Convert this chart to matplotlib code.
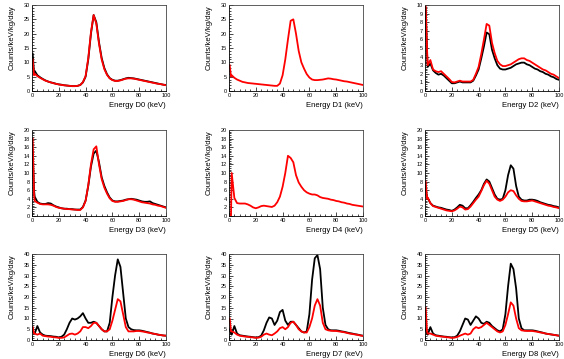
import matplotlib
matplotlib.use("Agg")
import matplotlib.pyplot as plt
from matplotlib.ticker import MultipleLocator

plt.rcParams["font.family"] = ["Liberation Sans", "DejaVu Sans"]

# energy grid (keV) shared by all spectra
energy = [0.5, 1.5, 2, 4, 6, 8, 10, 12, 14, 16, 18,
          20, 22, 24, 26, 28, 30, 32, 34, 36, 38,
          40, 42, 44, 46, 48, 50, 52, 54, 56, 58,
          60, 62, 64, 66, 68, 70, 72, 74, 76, 78,
          80, 82, 84, 86, 88, 90, 92, 94, 96, 98, 100]

detectors = ["D0", "D1", "D2", "D3", "D4", "D5", "D6", "D7", "D8"]
y_max = [30, 30, 10, 20, 20, 20, 40, 40, 40]
y_step = [5, 5, 1, 2, 2, 2, 5, 5, 5]

d0_black = [13, 6.5, 7, 5.5, 4.8, 4.2, 3.7, 3.3, 3.0, 2.8, 2.5,
            2.3, 2.2, 2.0, 1.9, 1.8, 1.7, 1.7, 1.8, 2.1, 3.0,
            5.0, 11, 20, 26.5, 24, 17, 11.5, 8, 5.8, 4.5,
            3.9, 3.6, 3.6, 3.8, 4.1, 4.4, 4.6, 4.5, 4.4, 4.2,
            4.0, 3.8, 3.6, 3.4, 3.2, 3.0, 2.8, 2.6, 2.4, 2.2, 2.1]
d0_red = [11, 5.5, 6, 5.2, 4.6, 4.1, 3.6, 3.3, 3.0, 2.7, 2.5,
          2.3, 2.1, 2.0, 1.9, 1.8, 1.7, 1.7, 1.8, 2.1, 3.1,
          5.2, 11.5, 20.5, 26.5, 23.5, 16.5, 11, 7.6, 5.6, 4.4,
          3.8, 3.5, 3.5, 3.7, 4.0, 4.3, 4.4, 4.4, 4.3, 4.1,
          3.9, 3.7, 3.5, 3.3, 3.1, 2.9, 2.7, 2.5, 2.4, 2.2, 2.0]

d1_red = [9, 5, 5.5, 4.6, 4.0, 3.6, 3.2, 3.0, 2.8, 2.7, 2.6,
          2.5, 2.4, 2.3, 2.2, 2.1, 2.0, 1.9, 1.8, 1.8, 2.6,
          5.5, 11, 18, 24.5, 25, 20, 14, 10, 7.8, 5.9,
          4.7, 4.0, 3.8, 3.8, 3.9, 4.0, 4.2, 4.4, 4.3, 4.1,
          4.0, 3.8, 3.6, 3.4, 3.3, 3.1, 2.9, 2.7, 2.5, 2.3, 2.1]

d2_black = [9.5, 4.5, 2.8, 3.2, 2.4, 2.1, 1.9, 2.0, 1.8, 1.5, 1.2,
            0.9, 0.9, 1.0, 1.1, 1.0, 1.0, 1.0, 1.0, 1.2, 1.8,
            2.5, 3.8, 5.2, 6.8, 6.6, 4.8, 3.8, 3.0, 2.6, 2.5,
            2.5, 2.6, 2.7, 2.9, 3.1, 3.2, 3.3, 3.3, 3.1, 3.0,
            2.8, 2.6, 2.5, 2.3, 2.2, 2.0, 1.9, 1.7, 1.6, 1.4, 1.3]
d2_red = [10, 5, 3.0, 3.6, 2.5, 2.3, 2.2, 2.3, 2.0, 1.7, 1.4,
          1.05, 1.0, 1.1, 1.2, 1.1, 1.1, 1.1, 1.1, 1.3, 2.0,
          2.8, 4.3, 6.0, 7.8, 7.6, 5.6, 4.4, 3.5, 3.1, 2.9,
          2.9, 3.0, 3.1, 3.3, 3.5, 3.7, 3.8, 3.8, 3.6, 3.5,
          3.3, 3.1, 2.9, 2.7, 2.5, 2.4, 2.2, 2.0, 1.9, 1.7, 1.5]

d3_black = [15, 6, 4.5, 3.3, 2.9, 2.8, 2.8, 3.0, 2.9, 2.5, 2.2,
            2.0, 1.8, 1.7, 1.7, 1.6, 1.6, 1.5, 1.5, 1.5, 2.1,
            3.6, 7, 11.5, 14.5, 15.2, 12.5, 9, 7, 5.5, 4.3,
            3.6, 3.4, 3.4, 3.5, 3.6, 3.8, 3.9, 4.0, 3.9, 3.8,
            3.6, 3.4, 3.3, 3.3, 3.4, 3.0, 2.8, 2.6, 2.4, 2.2, 2.0]
d3_red = [18, 5, 3.5, 3.1, 2.8, 2.7, 2.7, 2.7, 2.6, 2.4, 2.1,
          1.9, 1.8, 1.7, 1.6, 1.6, 1.5, 1.5, 1.4, 1.4, 2.0,
          3.5, 7.2, 12, 15.5, 16.2, 12, 8.6, 6.6, 5.2, 4.1,
          3.5, 3.3, 3.3, 3.4, 3.5, 3.7, 3.9, 3.9, 3.8, 3.6,
          3.4, 3.2, 3.1, 3.0, 2.9, 2.7, 2.6, 2.4, 2.3, 2.1, 1.9]

d4_red = [0, 0, 10, 4.2, 3.0, 2.9, 2.9, 2.9, 2.7, 2.4, 2.0,
          1.8, 2.0, 2.3, 2.4, 2.3, 2.2, 2.1, 2.4, 3.2, 4.5,
          6.8, 10, 14, 13.5, 12.5, 9.5, 7.8, 6.8, 6.0, 5.5,
          5.2, 5.0, 5.0, 4.8, 4.4, 4.2, 4.1, 4.0, 3.8, 3.7,
          3.5, 3.4, 3.2, 3.1, 2.9, 2.8, 2.6, 2.5, 2.4, 2.3, 2.2]

d5_black = [7, 4, 4.2, 3.0, 2.4, 2.2, 2.0, 1.9, 1.7, 1.5, 1.4,
            1.2, 1.5, 2.0, 2.6, 2.4, 1.8, 1.8, 2.5, 3.3, 4.2,
            5.0, 6.0, 7.5, 8.5, 8.0, 6.5, 5.0, 4.0, 3.8, 4.0,
            6.0, 9.5, 11.8, 11.0, 7.0, 4.5, 3.8, 3.6, 3.6, 3.8,
            3.8, 3.7, 3.5, 3.2, 3.0, 2.8, 2.6, 2.5, 2.3, 2.2, 2.0]
d5_red = [8, 4, 4.3, 3.0, 2.3, 2.1, 1.9, 1.7, 1.5, 1.3, 1.2,
          1.1, 1.3, 1.7, 2.2, 2.0, 1.5, 1.6, 2.2, 3.0, 3.8,
          4.5, 5.8, 7.2, 8.2, 7.5, 6.0, 4.5, 3.8, 3.5, 3.8,
          4.5, 5.5, 6.0, 5.8, 4.8, 4.0, 3.5, 3.4, 3.4, 3.5,
          3.6, 3.4, 3.2, 3.0, 2.8, 2.6, 2.4, 2.3, 2.1, 2.0, 1.8]

d6_black = [4, 3, 3, 6.5, 3.5, 2.5, 2.0, 1.9, 1.8, 1.6, 1.5,
            1.2, 1.5, 2.5, 5, 8, 10, 9.5, 10, 11, 12.5,
            10, 8, 8, 8.5, 8, 6.5, 5, 4, 4, 8,
            20, 30, 37.5, 34, 22, 10, 6, 5, 4.6, 4.5,
            4.5, 4.3, 4.0, 3.7, 3.4, 3.0, 2.8, 2.5, 2.3, 2.1, 2.0]
d6_red = [6, 3, 3, 2.5, 3.0, 2.0, 1.8, 1.6, 1.5, 1.3, 1.2,
          1.0, 1.0, 1.2, 2.0, 2.8, 3.0, 2.5, 3.0, 4.0, 6.0,
          6.0, 5.5, 6.5, 8.0, 8.0, 6.5, 5.0, 4.0, 4.0, 5.0,
          9, 14, 19, 18, 12, 6, 4, 4, 4, 4.2,
          4.2, 4.0, 3.8, 3.5, 3.3, 3.0, 2.8, 2.5, 2.3, 2.1, 2.0]

d7_black = [5, 3, 2.5, 6.5, 3, 2.2, 2.0, 1.8, 1.6, 1.5, 1.3,
            1.2, 1.3, 2.0, 4.5, 8, 10.5, 10, 7, 9, 13,
            14, 9, 7, 8.5, 8.5, 7, 5.5, 4, 3.5, 4,
            12, 28, 38, 39.5, 33, 15, 7, 5, 4.5, 4.5,
            4.5, 4.3, 4.0, 3.8, 3.5, 3.2, 3.0, 2.7, 2.5, 2.2, 2.0]
d7_red = [10, 4, 4, 3.5, 2.5, 2.0, 1.8, 1.6, 1.5, 1.3, 1.2,
          1.0, 1.1, 1.5, 2.5, 3.0, 2.5, 2.2, 3.0, 4.0, 5.5,
          6.0, 5.0, 6.0, 8.0, 8.5, 7.0, 5.0, 4.0, 3.5, 3.5,
          6, 10, 16, 19, 16, 8, 5, 4.5, 4.3, 4.2,
          4.2, 4.0, 3.8, 3.6, 3.3, 3.0, 2.8, 2.6, 2.4, 2.1, 1.9]

d8_black = [5, 3, 2.5, 6, 3, 2.2, 2.0, 1.8, 1.6, 1.5, 1.3,
            1.2, 1.3, 2.0, 4, 7, 10, 9.5, 7, 9, 11,
            10, 8, 7.5, 8.5, 8, 6.5, 5.5, 4.5, 4, 5,
            12, 25, 35.5, 33, 24, 10, 5.5, 4.5, 4.5, 4.5,
            4.5, 4.3, 4.0, 3.7, 3.4, 3.0, 2.8, 2.6, 2.4, 2.2, 2.0]
d8_red = [15, 4, 3, 3, 2.5, 2.0, 1.8, 1.6, 1.5, 1.3, 1.2,
          1.0, 1.1, 1.4, 2.0, 2.5, 3.0, 2.5, 3.0, 5.0, 6.0,
          5.5, 6.0, 7.0, 8.0, 7.0, 6.0, 5.0, 4.0, 3.5, 4.0,
          7, 12, 17.5, 16, 10, 5.5, 4.5, 4.3, 4.2, 4.2,
          4.2, 4.0, 3.8, 3.5, 3.3, 3.0, 2.8, 2.6, 2.4, 2.2, 2.0]

# D1 and D4 only have the red spectrum
black_series = [d0_black, None, d2_black, d3_black, None,
                d5_black, d6_black, d7_black, d8_black]
red_series = [d0_red, d1_red, d2_red, d3_red, d4_red,
              d5_red, d6_red, d7_red, d8_red]

W, H = 564, 359
fig = plt.figure(figsize=(W / 100, H / 100), dpi=100)

col_left = [32, 229, 425]
row_top = [5, 130, 254]
ax_w, ax_h = 134, 86

for i, name in enumerate(detectors):
    r, c = divmod(i, 3)
    rect = [col_left[c] / W, 1 - (row_top[r] + ax_h) / H, ax_w / W, ax_h / H]
    ax = fig.add_axes(rect)

    if black_series[i] is not None:
        ax.plot(energy, black_series[i], color="black", lw=1.3)
    ax.plot(energy, red_series[i], color="#ff0000", lw=1.3)

    ax.set_xlim(0, 100)
    ax.set_ylim(0, y_max[i])
    ax.xaxis.set_major_locator(MultipleLocator(20))
    ax.xaxis.set_minor_locator(MultipleLocator(4))
    ax.yaxis.set_major_locator(MultipleLocator(y_step[i]))
    ax.yaxis.set_minor_locator(MultipleLocator(y_step[i] / 5))

    ax.tick_params(which="both", direction="in", labelsize=4, pad=1.5,
                   width=0.5, top=False, right=False)
    ax.tick_params(which="major", length=3)
    ax.tick_params(which="minor", length=1.5)
    for sp in ax.spines.values():
        sp.set_linewidth(0.6)
    ax.spines["top"].set_color("#444444")
    ax.spines["right"].set_color("#444444")

    ax.set_xlabel(f"Energy {name} (keV)", fontsize=5.5, loc="right", labelpad=3)
    ax.set_ylabel("Counts/keV/kg/day", fontsize=5.5, loc="top", labelpad=6)

fig.savefig("out.png", dpi=100)
